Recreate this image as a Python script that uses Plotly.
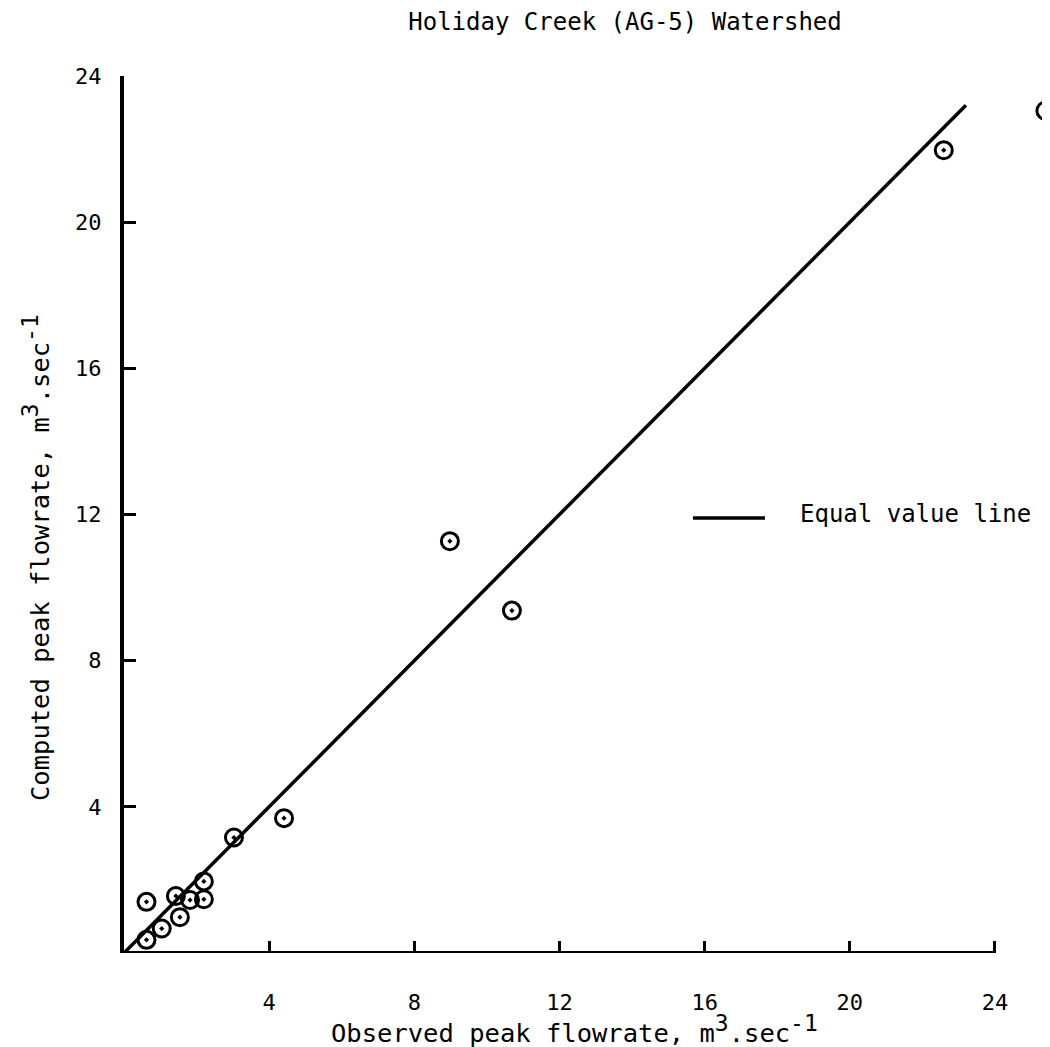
import plotly.graph_objects as go

# Data
observed = [0.62, 1.04, 1.54, 0.62, 1.43, 1.82, 2.20, 2.20, 3.03, 4.41, 8.98, 10.69, 22.59, 25.39]
computed = [0.36, 0.67, 0.98, 1.40, 1.56, 1.45, 1.47, 1.96, 3.16, 3.69, 11.27, 9.37, 21.97, 23.05]
equal_line = [0.0, 23.2]
tick_vals = [4, 8, 12, 16, 20, 24]
tick_text = ["4", "8", "12", "16", "20", "24"]

FONT = "DejaVu Sans Mono"
OFF = 8  # page body offset
W, H = 1050, 1047
L, T = 124 - OFF, 76 - OFF
PH = 877
B = H - T - PH
XMAX = 25.6
PW = int(round(871 * XMAX / 24))
R = W - L - PW

def px(xp):
    return (xp - OFF - L) / PW

def py(yp):
    return (T + PH - (yp - OFF)) / PH

fig = go.Figure()
fig.add_trace(go.Scatter(x=equal_line, y=equal_line, mode="lines",
                         line=dict(color="black", width=3.5), showlegend=False, hoverinfo="skip"))
fig.add_trace(go.Scatter(x=observed, y=computed, mode="markers",
                         marker=dict(symbol="circle-open-dot", size=17, color="black",
                                     line=dict(width=3, color="black")),
                         cliponaxis=False, showlegend=False))

# x-axis baseline only up to 24
fig.add_shape(type="line", xref="x", yref="y", x0=0, x1=24, y0=0, y1=0,
              line=dict(color="black", width=4))

# legend key
fig.add_shape(type="line", xref="paper", yref="paper", x0=px(693), x1=px(765), y0=py(518), y1=py(518),
              line=dict(color="black", width=3.5))
fig.add_annotation(text="Equal value line", xref="paper", yref="paper", x=px(798), y=py(514),
                   xanchor="left", yanchor="middle", showarrow=False,
                   font=dict(family=FONT, size=24, color="black"))

SUP3 = "<sup><span style='font-size:23px'>3</span></sup>"
SUPM1 = "<sup><span style='font-size:23px'>-1</span></sup>"

# axis titles
fig.add_annotation(text="Observed peak flowrate, m" + SUP3 + ".sec" + SUPM1, xref="paper", yref="paper",
                   x=px(574), y=py(1029), xanchor="center", yanchor="middle", showarrow=False,
                   font=dict(family=FONT, size=25.5, color="black"))
fig.add_annotation(text="Computed peak flowrate, m" + SUP3 + ".sec" + SUPM1, xref="paper", yref="paper",
                   x=px(36), y=py(558), xanchor="center", yanchor="middle", showarrow=False, textangle=-90,
                   font=dict(family=FONT, size=25.5, color="black"))

fig.update_layout(
    width=W, height=H,
    margin=dict(l=L, r=R, t=T, b=B),
    paper_bgcolor="white", plot_bgcolor="white",
    title=dict(text="Holiday Creek (AG-5) Watershed", x=(625 - OFF) / W, xref="container", xanchor="center",
               y=1 - (22 - OFF) / H, yref="container", yanchor="middle",
               font=dict(family=FONT, size=24, color="black")),
    xaxis=dict(range=[0, XMAX], showgrid=False, zeroline=False, showline=False,
               tickmode="array", tickvals=tick_vals, ticktext=tick_text,
               ticks="inside", ticklen=12, tickwidth=3, tickcolor="black",
               ticklabelstandoff=34,
               tickfont=dict(family=FONT, size=22, color="black")),
    yaxis=dict(range=[0, 24], showgrid=False, zeroline=False, showline=True,
               linecolor="black", linewidth=4,
               tickmode="array", tickvals=tick_vals, ticktext=tick_text,
               ticks="inside", ticklen=12, tickwidth=3, tickcolor="black",
               ticklabelstandoff=14,
               tickfont=dict(family=FONT, size=22, color="black")),
)

fig.write_html("out.html")
